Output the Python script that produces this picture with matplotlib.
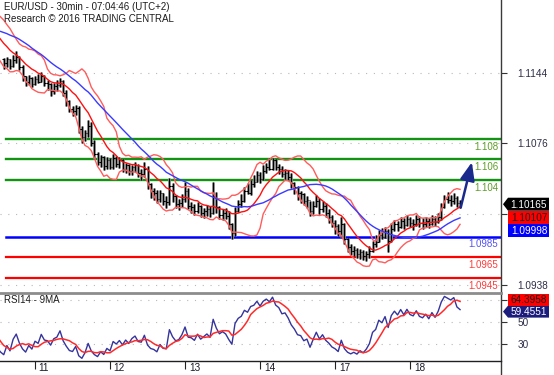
"""
EUR/USD 30min chart with Bollinger bands, moving average,
target levels and RSI panel (Trading Central style).
"""

import numpy as np
import pandas as pd
import matplotlib
matplotlib.use("Agg")
import matplotlib.pyplot as plt
from matplotlib.patches import Polygon

plt.rcParams['font.family'] = ['Liberation Sans', 'DejaVu Sans']

BASE = 1.09   # prices below are in pips above this
PIP = 1e-4

# closes before the first visible bar (only feed the averages / RSI)
prior_closes = [281, 284, 288, 286, 290, 293, 289, 286, 291, 295, 292, 288, 290,
                294, 297, 293, 289, 286, 283, 279, 276, 272, 268, 263, 258]

closes = [254, 258, 251, 257, 260, 250, 241, 235, 239, 233,
          238, 235, 241, 234, 233, 227, 231, 232, 236, 225,
          217, 209, 207, 210, 190, 182, 186, 193, 176, 165,
          158, 162, 154, 159, 153, 161, 156, 159, 151, 155,
          149, 153, 155, 147, 146, 151, 136, 129, 127, 122,
          127, 120, 119, 134, 124, 117, 118, 122, 129, 115,
          114, 110, 115, 108, 110, 112, 108, 124, 114, 106,
          108, 105, 97, 89, 110, 117, 120, 129, 127, 136,
          138, 145, 141, 149, 153, 151, 159, 153, 151, 146,
          147, 143, 137, 133, 127, 126, 120, 121, 110, 115,
          120, 112, 115, 108, 104, 98, 95, 90, 97, 83,
          75, 71, 72, 68, 70, 66, 68, 71, 78, 80,
          87, 85, 90, 81, 92, 97, 94, 100, 96, 102,
          98, 97, 102, 98, 97, 100, 97, 102, 99, 104,
          114, 122, 121, 120, 123, 118, 116.5]

highs = [259, 260, 258, 262, 265, 261, 252, 241, 242, 240,
         241, 243, 245, 242, 237, 234, 234, 237, 239, 237,
         228, 218, 212, 213, 212, 193, 189, 198, 196, 179,
         167, 164, 163, 162, 161, 165, 163, 162, 160, 157,
         156, 155, 158, 156, 151, 158, 154, 137, 132, 130,
         130, 127, 124, 142, 137, 125, 122, 126, 138, 132,
         119, 117, 119, 116, 113, 116, 115, 138, 128, 115,
         112, 113, 110, 98, 114, 121, 126, 133, 137, 140,
         145, 149, 148, 155, 157, 161, 161, 160, 156, 154,
         151, 150, 147, 138, 134, 129, 127, 124, 120, 120,
         125, 123, 120, 118, 112, 106, 101, 97, 104, 98,
         84, 78, 76, 74, 73, 72, 71, 76, 81, 87,
         91, 93, 94, 92, 98, 101, 100, 104, 103, 106,
         104, 102, 106, 105, 103, 104, 103, 106, 105, 108,
         118, 125, 128, 125, 127, 124, 121]

lows = [248, 250, 248, 250, 254, 247, 236, 231, 232, 230,
        232, 234, 235, 231, 228, 222, 224, 227, 230, 222,
        212, 206, 202, 203, 186, 176, 178, 182, 173, 160,
        155, 153, 150, 151, 151, 151, 153, 152, 148, 147,
        145, 145, 148, 143, 140, 143, 131, 123, 121, 118,
        119, 116, 113, 116, 119, 113, 111, 114, 119, 112,
        108, 106, 108, 104, 103, 105, 104, 107, 108, 102,
        101, 102, 92, 83, 86, 109, 114, 119, 126, 125,
        133, 138, 137, 140, 147, 150, 150, 150, 146, 143,
        140, 140, 132, 126, 121, 118, 116, 113, 105, 107,
        114, 107, 109, 104, 98, 94, 88, 86, 85, 78,
        70, 67, 66, 64, 63, 62, 61, 64, 70, 75,
        80, 83, 84, 70, 80, 90, 90, 93, 92, 95,
        94, 91, 95, 94, 92, 94, 93, 96, 95, 98,
        101, 113, 118, 115, 117, 114, 113]

day_starts = [10, 34, 58, 82, 106, 130]
day_labels = ['11', '12', '13', '14', '17', '18']

resistance = [1.104, 1.106, 1.108]
pivot = [1.0985]
support = [1.0965, 1.0945]

price_ticks = [1.0938, 1.1007, 1.1076, 1.1144]
price_tick_labels = ['1.0938', '', '1.1076', '1.1144']   # 1.1007 sits under the value boxes
rsi_ticks = [30, 50, 70]
rsi_tick_labels = ['30', '50', '']

last_close = 1.10165
last_bb_mid = 1.10107
last_sma = 1.09998
last_rsi = 59.4551
last_rsi_ma = 64.3958
arrow_target = 1.106

# ---- indicators (bars here are hourly, periods shortened vs 30min) ----
n_prior = len(prior_closes)
px_close = pd.Series(np.array(prior_closes + closes, float) * PIP + BASE)
xs_all = np.arange(len(px_close)) - n_prior

bb_mid = px_close.rolling(10).mean()
bb_sd = px_close.rolling(10).std(ddof=0)
bb_up = bb_mid + 2 * bb_sd
bb_lo = bb_mid - 2 * bb_sd
sma = px_close.rolling(25).mean()

delta = px_close.diff()
gain = delta.clip(lower=0).ewm(alpha=1 / 10, adjust=False).mean()
loss = (-delta.clip(upper=0)).ewm(alpha=1 / 10, adjust=False).mean()
rsi = 100 - 100 / (1 + gain / loss)
rsi_ma = rsi.rolling(6).mean()

c = np.array(closes, float) * PIP + BASE
h = np.array(highs, float) * PIP + BASE
l = np.array(lows, float) * PIP + BASE
o = np.concatenate([[prior_closes[-1] * PIP + BASE], c[:-1]])
x = np.arange(len(c))

# ---- figure ----
W, H = 554, 375
fig = plt.figure(figsize=(W / 100, H / 100), dpi=100)
ax = fig.add_axes([0, 82 / H, 501 / W, 293 / H])
rx = fig.add_axes([0, 14 / H, 501 / W, 68 / H])

for a in (ax, rx):
    a.set_xlim(-1.2, 159.1)
    for s in a.spines.values():
        s.set_visible(False)
    a.yaxis.tick_right()
    a.yaxis.grid(True, linestyle=(0, (1, 6)), color='#b8b8b8', lw=0.8)
    a.set_axisbelow(True)
    a.tick_params(axis='y', direction='out', length=4, width=0.8, pad=8,
                  labelsize=7.2, color='#333333', labelcolor='#2e2e48')

ax.set_ylim(1.09302, 1.1215)
ax.set_yticks(price_ticks)
ax.set_yticklabels(price_tick_labels)
ax.set_xticks([])

# target levels
for lv in resistance:
    ax.axhline(lv, xmin=6 / 501, color='#129412', lw=1.7, zorder=1)
    ax.annotate(f'{lv:g}', xy=(1, lv), xycoords=('axes fraction', 'data'),
                xytext=(-2, -2), textcoords='offset points', ha='right',
                va='top', fontsize=7, color='#5f9d2a')
for lv in pivot:
    ax.axhline(lv, xmin=6 / 501, color='#0000ff', lw=1.8, zorder=1)
    ax.annotate(f'{lv:g}', xy=(1, lv), xycoords=('axes fraction', 'data'),
                xytext=(-2, -2), textcoords='offset points', ha='right',
                va='top', fontsize=7, color='#5454f0')
for lv in support:
    ax.axhline(lv, xmin=6 / 501, color='#ff0000', lw=1.6, zorder=1)
    ax.annotate(f'{lv:g}', xy=(1, lv), xycoords=('axes fraction', 'data'),
                xytext=(-2, -2), textcoords='offset points', ha='right',
                va='top', fontsize=7, color='#ff3a3a')

# OHLC bars
ax.vlines(x, l, h, color='#8a8a8a', lw=2.0, zorder=3)
ax.vlines(x, l, h, color='black', lw=0.8, zorder=3)
ax.hlines(o, x - 0.45, x, color='black', lw=0.8, zorder=3)
ax.hlines(c, x, x + 0.45, color='black', lw=0.8, zorder=3)

# indicators
ax.plot(xs_all, bb_up, color='#ff5c5c', lw=1.0, zorder=4)
ax.plot(xs_all, bb_lo, color='#ff5c5c', lw=1.0, zorder=4)
ax.plot(xs_all, bb_mid, color='#ff1010', lw=1.0, zorder=4)
ax.plot(xs_all, sma, color='#3a3aff', lw=1.0, zorder=4)

# projected move
ax.annotate('', xy=(x[-1] + 4, arrow_target), xytext=(x[-1], last_bb_mid),
            arrowprops=dict(arrowstyle='-|>,head_length=0.55,head_width=0.22',
                            mutation_scale=20, lw=1.8, color='#1a2a8c'),
            zorder=5)

# RSI panel
rx.set_ylim(14.5, 76.4)
rx.set_yticks(rsi_ticks)
rx.set_yticklabels(rsi_tick_labels)
rx.plot(xs_all, rsi, color='#34349c', lw=1.0)
rx.plot(xs_all, rsi_ma, color='#ff2a2a', lw=1.1)
rx.set_xticks(day_starts)
rx.set_xticklabels([])
rx.tick_params(axis='x', direction='out', length=6, width=0.8, color='#222222')
for d, lab in zip(day_starts, day_labels):
    rx.text(d + 1.2, -0.03, lab, transform=rx.get_xaxis_transform(),
            ha='left', va='top', fontsize=7.2, color='#1a1a2a')

# ---- overlay in pixel coordinates: frame lines, headers, value boxes ----
ov = fig.add_axes([0, 0, 1, 1], zorder=10)
ov.set_xlim(0, W)
ov.set_ylim(H, 0)
ov.axis('off')

ov.plot([501, 501], [0, H], color='#3a3a3a', lw=1)
ov.plot([0, 501], [293, 293], color='#8c8c8c', lw=2)
ov.plot([0, 501], [361, 361], color='#202020', lw=1)

ov.text(4, 2.5, 'EUR/USD - 30min - 07:04:46 (UTC+2)', ha='left', va='top',
        fontsize=7, color='#1c1c1c')
ov.text(4, 14.5, 'Research \u00a9 2016 TRADING CENTRAL', ha='left', va='top',
        fontsize=7, color='#1c1c1c')
ov.text(4, 300, 'RSI14 - 9MA', ha='left', va='center', fontsize=7, color='#1c1c1c')


def to_px(a, v):
    return H - a.transData.transform((0, v))[1]


def value_box(yc, text, face, tcolor, bh, arrow=False):
    x0, x1 = 508, 549
    if arrow:
        pts = [(503, yc), (x0, yc - bh / 2), (x1, yc - bh / 2),
               (x1, yc + bh / 2), (x0, yc + bh / 2)]
    else:
        pts = [(x0, yc - bh / 2), (x1, yc - bh / 2),
               (x1, yc + bh / 2), (x0, yc + bh / 2)]
    ov.add_patch(Polygon(pts, closed=True, fc=face, ec='none'))
    ov.text((x0 + x1) / 2 + 0.5, yc + 0.5, text, ha='center', va='center',
            fontsize=7.2, color=tcolor)


yb = to_px(ax, last_close)
value_box(yb, f'{last_close:.5f}', 'black', 'white', 13, arrow=True)
value_box(yb + 13, f'{last_bb_mid:.5f}', '#ff0000', '#1a1a1a', 13)
value_box(yb + 26, f'{last_sma:.5f}', '#0000ff', 'white', 13)

yr = to_px(rx, last_rsi)
value_box(yr, f'{last_rsi:.4f}', '#1c1c7c', 'white', 12, arrow=True)
value_box(yr - 12, f'{last_rsi_ma:.4f}', '#ff0000', '#1a1a1a', 12)

fig.savefig('out.png', dpi=100)
